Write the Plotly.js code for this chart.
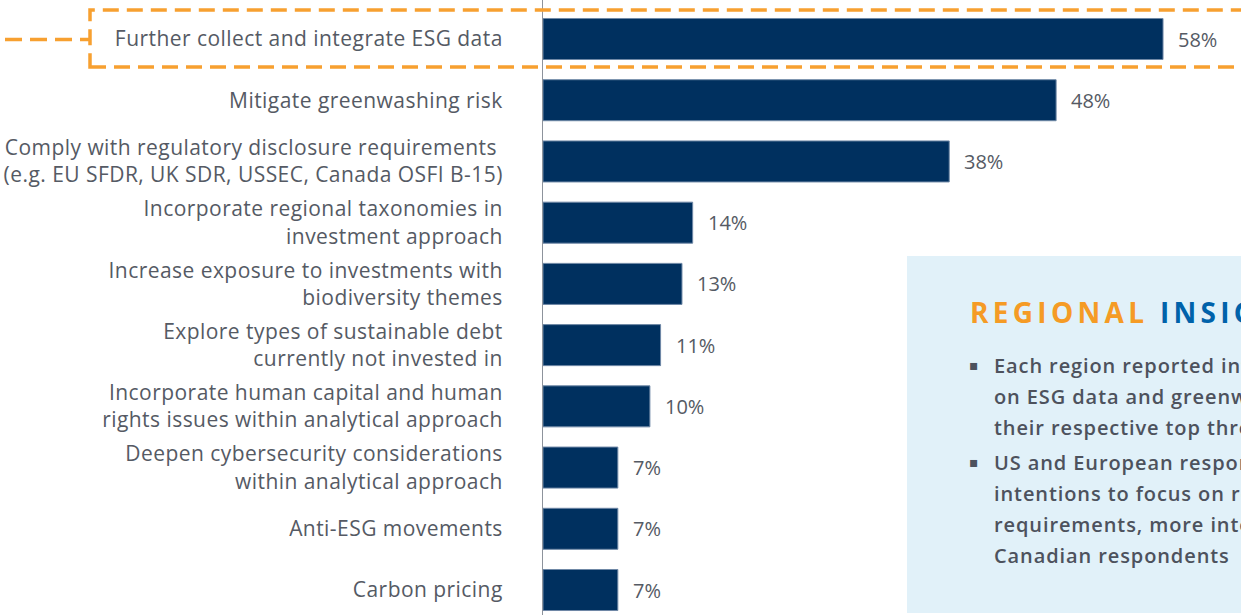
<!DOCTYPE html>
<html>
<head>
<meta charset="utf-8">
<script src="https://cdn.plot.ly/plotly-3.0.1.min.js"></script>
<style>
html,body{margin:0;padding:0;background:#fff;}
#chart{width:1241px;height:615px;}
.ytick text{letter-spacing:0.45px;}
.annotation[data-index="10"] text{letter-spacing:4.3px;}
.annotation[data-index="11"] text,.annotation[data-index="12"] text,.annotation[data-index="13"] text,
.annotation[data-index="14"] text,.annotation[data-index="15"] text,.annotation[data-index="16"] text,
.annotation[data-index="17"] text{letter-spacing:0.9px;}
</style>
</head>
<body>
<div id="chart"></div>
<script>
// ---- data ----
const categories = [
  "Further collect and integrate ESG data",
  "Mitigate greenwashing risk",
  "Comply with regulatory disclosure requirements\u00a0<br>(e.g. EU SFDR, UK SDR, USSEC, Canada OSFI B-15)",
  "Incorporate regional taxonomies in<br>investment approach",
  "Increase exposure to investments with<br>biodiversity themes",
  "Explore types of sustainable debt<br>currently not invested in",
  "Incorporate human capital and human<br>rights issues within analytical approach",
  "Deepen cybersecurity considerations<br>within analytical approach",
  "Anti-ESG movements",
  "Carbon pricing"
];
const values = [58, 48, 38, 14, 13, 11, 10, 7, 7, 7];
const valueLabels = ["58%", "48%", "38%", "14%", "13%", "11%", "10%", "7%", "7%", "7%"];
const insightTitleA = "REGIONAL";
const insightTitleB = "INSIGHTS";
const insightLines = [
  "Each region reported intentions to focus",
  "on ESG data and greenwashing risk among",
  "their respective top three priorities",
  "US and European respondents reported",
  "intentions to focus on regulatory disclosure",
  "requirements, more intensively than",
  "Canadian respondents"
];
const bulletStarts = [0, 3];

// ---- layout helpers ----
const W = 1241, H = 615, L = 543;
const px = x => (x - L) / (W - L);
const py = y => 1 - y / H;

const textGray = "#555a64";
const font = "'Open Sans', sans-serif";

const idx = categories.map((c, i) => i);

const trace = {
  type: "bar",
  orientation: "h",
  x: values,
  y: idx,
  marker: {color: "#00305f", line: {color: "#6f88a6", width: 1}},
  hoverinfo: "skip"
};

const annotations = values.map((v, i) => ({
  x: v, y: i, xref: "x", yref: "y",
  text: valueLabels[i], showarrow: false,
  xanchor: "left", yanchor: "middle", xshift: 13,
  font: {family: font, size: 20, color: textGray}
}));

// title annotation index 10
annotations.push({
  xref: "paper", yref: "paper", x: px(968), y: py(312),
  xanchor: "left", yanchor: "middle", showarrow: false, align: "left",
  text: '<span style="color:#f59b25">' + insightTitleA + '</span> <span style="color:#0062aa">' + insightTitleB + '</span>',
  font: {family: font, size: 28, weight: 700}
});
const lineY = [365, 396, 427, 462, 493, 524, 555];
insightLines.forEach((t, i) => {
  annotations.push({
    xref: "paper", yref: "paper", x: px(992), y: py(lineY[i]),
    xanchor: "left", yanchor: "middle", showarrow: false, align: "left",
    text: t,
    font: {family: font, size: 20, weight: 600, color: "#4d525d"}
  });
});
bulletStarts.forEach(b => {
  annotations.push({
    xref: "paper", yref: "paper", x: px(967), y: py(lineY[b]),
    xanchor: "left", yanchor: "middle", showarrow: false,
    text: "\u25aa",
    font: {family: "DejaVu Sans", size: 14, color: "#4d525d"}
  });
});

const orange = "#f7a030";
const shapes = [
  {type: "rect", xref: "paper", yref: "paper", x0: px(907), x1: 1.1, y0: py(613), y1: py(256),
   fillcolor: "#e1f1f9", line: {width: 0}, layer: "below"},
  {type: "rect", xref: "paper", yref: "paper", x0: px(90), x1: 1.05, y0: py(67), y1: py(10),
   fillcolor: "rgba(0,0,0,0)", line: {color: orange, width: 3.5, dash: "16px,8px"}, layer: "above"},
  {type: "line", xref: "paper", yref: "paper", x0: px(5), x1: px(90), y0: py(39.5), y1: py(39.5),
   line: {color: orange, width: 3.5, dash: "17px,8px"}, layer: "above"}
];

const layout = {
  width: W, height: H,
  margin: {l: L, r: 0, t: 0, b: 0, pad: 0},
  paper_bgcolor: "#ffffff",
  plot_bgcolor: "rgba(0,0,0,0)",
  showlegend: false,
  bargap: 0.33,
  xaxis: {range: [0, (W - L) / 10.69], visible: false, fixedrange: true},
  yaxis: {
    range: [9.408, -0.637], autorange: false,
    tickvals: idx, ticktext: categories,
    showline: true, linecolor: "#8d939c", linewidth: 1,
    showgrid: false, zeroline: false, ticks: "",
    ticklabelstandoff: 35,
    tickfont: {family: font, size: 21, color: textGray},
    fixedrange: true
  },
  annotations: annotations,
  shapes: shapes
};

Plotly.newPlot("chart", [trace], layout, {displayModeBar: false, staticPlot: true});
</script>
</body>
</html>
